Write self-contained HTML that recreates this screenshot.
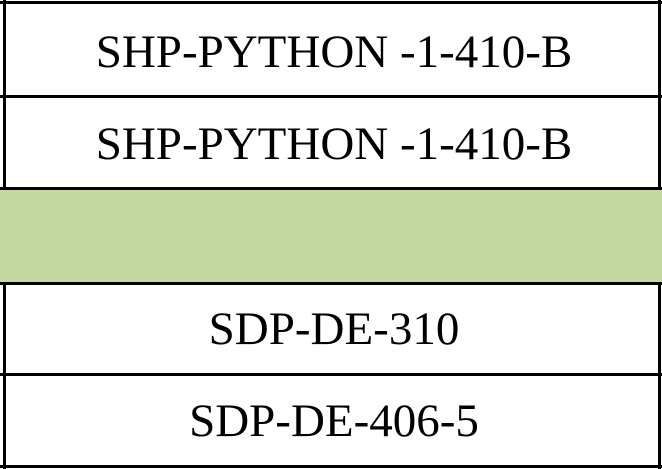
<!DOCTYPE html>
<html><head><meta charset="utf-8"><style>
body{margin:0;width:662px;height:469px;background:#fff;position:relative;overflow:hidden;font-family:"Liberation Serif",serif;}
.h{position:absolute;left:0;width:662px;height:3px;background:#000;}
.v{position:absolute;top:0;width:3px;background:#000;}
.t{position:absolute;left:6px;width:656px;text-align:center;font-size:47px;line-height:47px;color:#000;}
</style></head><body>
<div style="position:absolute;left:0;top:190px;width:662px;height:92px;background:#c5d7a0"></div>
<div class="v" style="left:3px;top:0;height:190px"></div>
<div class="v" style="left:658px;top:0;height:190px"></div>
<div class="v" style="left:3px;top:282px;height:187px"></div>
<div class="v" style="left:658px;top:282px;height:187px"></div>
<div class="h" style="top:1px"></div>
<div class="h" style="top:95px"></div>
<div class="h" style="top:187px"></div>
<div class="h" style="top:282px"></div>
<div class="h" style="top:373px"></div>
<div class="h" style="top:465px"></div>
<div class="t" style="top:29px">SHP-PYTHON -1-410-B</div>
<div class="t" style="top:121px">SHP-PYTHON -1-410-B</div>
<div class="t" style="top:306px">SDP-DE-310</div>
<div class="t" style="top:398px">SDP-DE-406-5</div>
</body></html>
